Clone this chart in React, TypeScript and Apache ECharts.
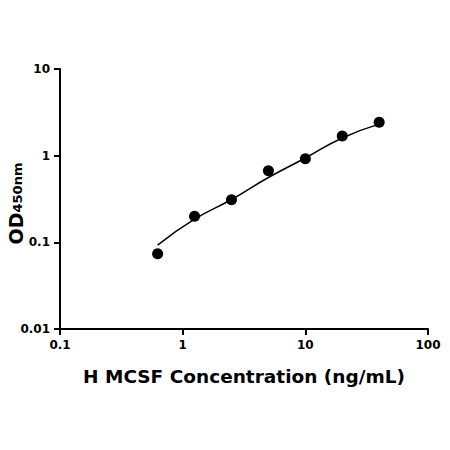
import React, { useEffect, useRef } from "react";
import * as echarts from "echarts";

const concentrations = [0.625, 1.25, 2.5, 5, 10, 20, 40];
const odValues = [0.074, 0.2, 0.31, 0.67, 0.92, 1.69, 2.43];
const fitX = [0.625, 1.25, 2.5, 5, 10, 20, 40];
const fitY = [0.093, 0.185, 0.312, 0.56, 0.94, 1.6, 2.31];
const xTicks = ["0.1", "1", "10", "100"];
const yTicks = ["0.01", "0.1", "1", "10"];

const FONT = "DejaVu Sans";

export default function App() {
  const ref = useRef<HTMLDivElement>(null);
  useEffect(() => {
    if (!ref.current) return;
    const chart = echarts.init(ref.current, undefined, { renderer: "svg" });
    const fmt = (v: number) => String(Number(v.toPrecision(6)));
    chart.setOption({
      animation: false,
      backgroundColor: "#ffffff",
      grid: { left: 60, right: 22, top: 69, bottom: 121, containLabel: false, outerBoundsMode: "none" },
      xAxis: {
        type: "log",
        logBase: 10,
        min: Number(xTicks[0]),
        max: Number(xTicks[xTicks.length - 1]),
        name: "H MCSF Concentration (ng/mL)",
        nameLocation: "middle",
        nameGap: 38,
        nameMoveOverlap: false,
        nameTextStyle: { fontFamily: FONT, fontWeight: "bold", fontSize: 18.5, color: "#000" },
        axisLine: { show: true, onZero: false, lineStyle: { color: "#000", width: 2 } },
        axisTick: { show: true, length: 6, lineStyle: { color: "#000", width: 2 } },
        minorTick: { show: false },
        splitLine: { show: false },
        axisLabel: {
          fontFamily: FONT,
          fontWeight: "bold",
          fontSize: 12,
          color: "#000",
          margin: 10,
          formatter: fmt,
        },
      },
      yAxis: {
        type: "log",
        logBase: 10,
        min: Number(yTicks[0]),
        max: Number(yTicks[yTicks.length - 1]),
        name: "{a|OD}{b|450nm}",
        nameLocation: "middle",
        nameGap: 35,
        nameRotate: 90,
        nameMoveOverlap: false,
        nameTextStyle: {
          color: "#000",
          rich: {
            a: { fontFamily: FONT, fontWeight: "bold", fontSize: 19, color: "#000", verticalAlign: "bottom" },
            b: { fontFamily: FONT, fontWeight: "bold", fontSize: 13, color: "#000", verticalAlign: "bottom", padding: [0, 9, 1, 0] },
          },
        },
        axisLine: { show: true, onZero: false, lineStyle: { color: "#000", width: 2 } },
        axisTick: { show: true, length: 6, lineStyle: { color: "#000", width: 2 } },
        minorTick: { show: false },
        splitLine: { show: false },
        axisLabel: {
          fontFamily: FONT,
          fontWeight: "bold",
          fontSize: 12,
          color: "#000",
          margin: 10,
          formatter: fmt,
        },
      },
      series: [
        {
          type: "line",
          data: fitX.map((x, i) => [x, fitY[i]]),
          smooth: 0.5,
          showSymbol: false,
          symbol: "none",
          lineStyle: { color: "#000", width: 1.5 },
          silent: true,
          z: 2,
        },
        {
          type: "scatter",
          data: concentrations.map((x, i) => [x, odValues[i]]),
          symbol: "circle",
          symbolSize: 11,
          itemStyle: { color: "#000", opacity: 1 },
          z: 3,
        },
      ],
    });
    return () => chart.dispose();
  }, []);
  return <div ref={ref} style={{ width: 450, height: 450, position: "absolute", left: 0, top: 0 }} />;
}
